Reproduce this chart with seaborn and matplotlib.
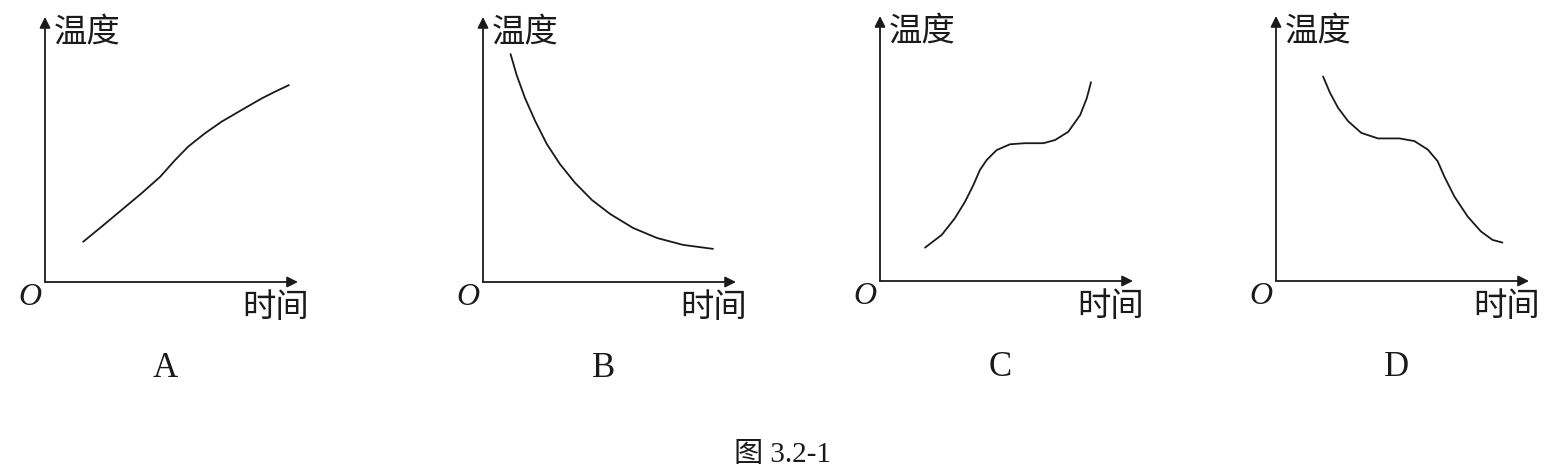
import matplotlib
matplotlib.use("Agg")
import matplotlib.pyplot as plt
import seaborn as sns
import pandas as pd

# ---- data (normalized time / temperature) ----
panel_labels = ["A", "B", "C", "D"]
y_label = "温度"
x_label = "时间"
origin_label = "O"
caption = "图 3.2-1"

a_time = [0.151, 0.224, 0.303, 0.382, 0.455, 0.514, 0.566, 0.632, 0.698, 0.777, 0.857, 0.909, 0.964]
a_temp = [0.152, 0.209, 0.272, 0.335, 0.397, 0.460, 0.511, 0.561, 0.605, 0.649, 0.693, 0.718, 0.743]

b_time = [0.109, 0.133, 0.166, 0.206, 0.252, 0.304, 0.364, 0.431, 0.502, 0.593, 0.688, 0.791, 0.909]
b_temp = [0.860, 0.781, 0.694, 0.608, 0.521, 0.445, 0.374, 0.309, 0.257, 0.204, 0.166, 0.140, 0.125]

c_time = [0.178, 0.244, 0.296, 0.336, 0.369, 0.395, 0.422, 0.461, 0.514, 0.573,
          0.646, 0.692, 0.744, 0.791, 0.817, 0.834]
c_temp = [0.126, 0.174, 0.237, 0.299, 0.362, 0.419, 0.457, 0.494, 0.516, 0.520,
          0.520, 0.532, 0.563, 0.626, 0.689, 0.750]

d_time = [0.186, 0.213, 0.245, 0.285, 0.337, 0.403, 0.488, 0.547, 0.600, 0.639,
          0.665, 0.705, 0.757, 0.810, 0.856, 0.895]
d_temp = [0.772, 0.711, 0.654, 0.603, 0.559, 0.538, 0.538, 0.528, 0.496, 0.452,
          0.395, 0.319, 0.244, 0.187, 0.155, 0.145]

series = [(a_time, a_temp), (b_time, b_temp), (c_time, c_temp), (d_time, d_temp)]

# ---- layout ----
W, H = 1566, 476
origins = [(45, 282), (483, 282), (880, 281), (1276, 281)]
ax_w, ax_h = 253, 265
ink = "#1a1a1a"

sns.set_theme(style="white")
plt.rcParams["font.family"] = ["Noto Sans CJK SC", "DejaVu Sans"]

fig = plt.figure(figsize=(W / 100, H / 100), dpi=100)
fig.patch.set_facecolor("white")

for (ox, oy), (tx, ty), lab in zip(origins, series, panel_labels):
    ax = fig.add_axes([ox / W, (H - oy) / H, ax_w / W, ax_h / H])
    ax.set_xlim(0, 1)
    ax.set_ylim(0, 1)
    ax.set_facecolor("none")
    for s in ax.spines.values():
        s.set_visible(False)
    ax.set_xticks([])
    ax.set_yticks([])

    df = pd.DataFrame({"time": tx, "temp": ty})
    sns.lineplot(data=df, x="time", y="temp", ax=ax, color=ink,
                 linewidth=1.3, sort=False, estimator=None,
                 solid_joinstyle="round", solid_capstyle="round")
    ax.set_xlabel("")
    ax.set_ylabel("")

    # axes arrows
    arrow = dict(arrowstyle="-|>", color=ink, lw=1.3,
                 mutation_scale=16, shrinkA=0, shrinkB=0)
    ax.annotate("", xy=(1.0, 0), xytext=(0, 0), xycoords="axes fraction",
                arrowprops=arrow, annotation_clip=False)
    ax.annotate("", xy=(0, 1.0), xytext=(0, 0), xycoords="axes fraction",
                arrowprops=arrow, annotation_clip=False)

    ax.text(0.035, 0.945, y_label, transform=ax.transAxes, ha="left",
            va="center", fontsize=24, color=ink)
    ax.text(1.045, -0.095, x_label, transform=ax.transAxes, ha="right",
            va="center", fontsize=24, color=ink)
    ax.text(-0.06, -0.06, origin_label, transform=ax.transAxes, ha="center",
            va="center", fontsize=23, style="italic",
            family=["Liberation Serif"], color=ink)
    ax.text(0.476, -0.325, lab, transform=ax.transAxes, ha="center",
            va="center", fontsize=25, family=["Liberation Serif"],
            color=ink)

fig.text(782 / W, (H - 455) / H, caption, ha="center", va="center",
         fontsize=21, family=["Liberation Serif", "Noto Sans CJK SC"],
         color=ink)

fig.savefig("out.png", dpi=100, facecolor="white")
